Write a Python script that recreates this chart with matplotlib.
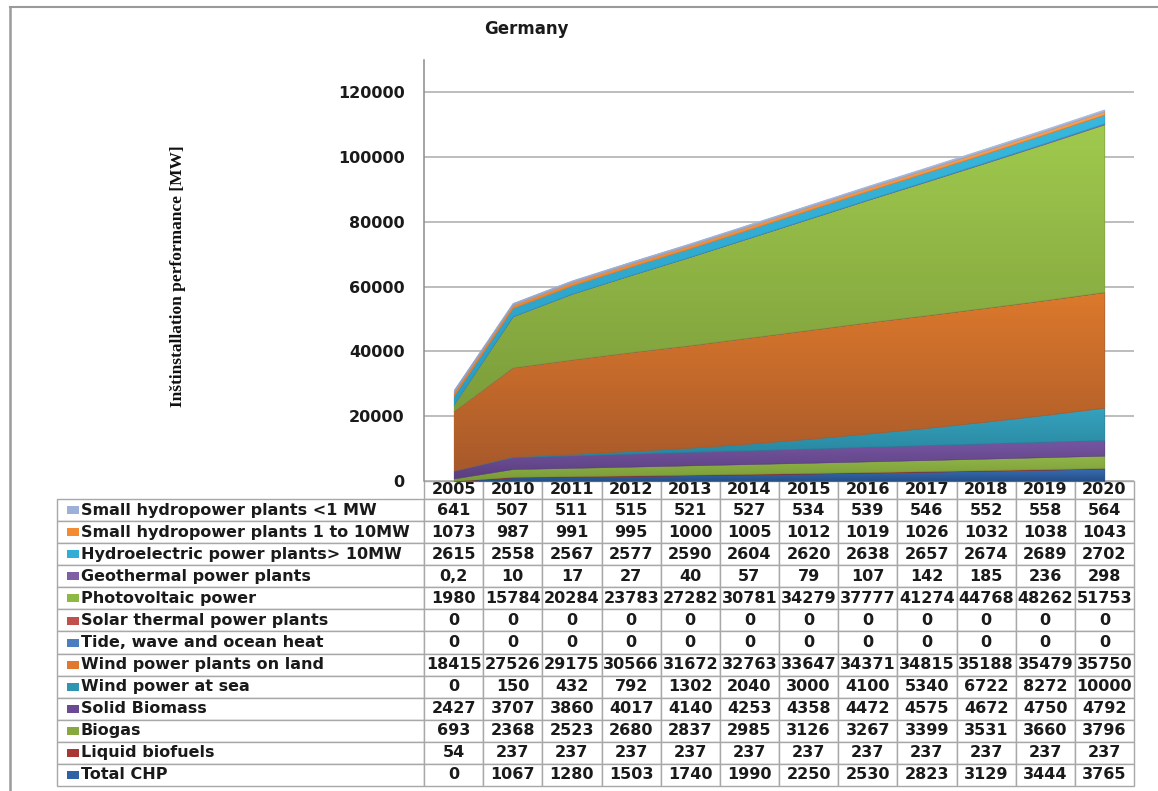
import numpy as np
import matplotlib
matplotlib.use("Agg")
import matplotlib.pyplot as plt
from matplotlib.patches import Rectangle
from matplotlib.lines import Line2D
from matplotlib.colors import LinearSegmentedColormap

# ---------------- data ----------------
years = ["2005", "2010", "2011", "2012", "2013", "2014", "2015",
         "2016", "2017", "2018", "2019", "2020"]

small_hydro_lt1 = [641, 507, 511, 515, 521, 527, 534, 539, 546, 552, 558, 564]
small_hydro_1_10 = [1073, 987, 991, 995, 1000, 1005, 1012, 1019, 1026, 1032, 1038, 1043]
hydro_gt10 = [2615, 2558, 2567, 2577, 2590, 2604, 2620, 2638, 2657, 2674, 2689, 2702]
geothermal = [0.2, 10, 17, 27, 40, 57, 79, 107, 142, 185, 236, 298]
photovoltaic = [1980, 15784, 20284, 23783, 27282, 30781, 34279, 37777, 41274, 44768, 48262, 51753]
solar_thermal = [0, 0, 0, 0, 0, 0, 0, 0, 0, 0, 0, 0]
tide_wave = [0, 0, 0, 0, 0, 0, 0, 0, 0, 0, 0, 0]
wind_land = [18415, 27526, 29175, 30566, 31672, 32763, 33647, 34371, 34815, 35188, 35479, 35750]
wind_sea = [0, 150, 432, 792, 1302, 2040, 3000, 4100, 5340, 6722, 8272, 10000]
solid_biomass = [2427, 3707, 3860, 4017, 4140, 4253, 4358, 4472, 4575, 4672, 4750, 4792]
biogas = [693, 2368, 2523, 2680, 2837, 2985, 3126, 3267, 3399, 3531, 3660, 3796]
liquid_biofuels = [54, 237, 237, 237, 237, 237, 237, 237, 237, 237, 237, 237]
total_chp = [0, 1067, 1280, 1503, 1740, 1990, 2250, 2530, 2823, 3129, 3444, 3765]

series_names = [
    "Small hydropower plants <1 MW",
    "Small hydropower plants 1 to 10MW",
    "Hydroelectric power plants> 10MW",
    "Geothermal power plants",
    "Photovoltaic power",
    "Solar thermal power plants",
    "Tide, wave and ocean heat",
    "Wind power plants on land",
    "Wind power at sea",
    "Solid Biomass",
    "Biogas",
    "Liquid biofuels",
    "Total CHP",
]
series_values = [small_hydro_lt1, small_hydro_1_10, hydro_gt10, geothermal,
                 photovoltaic, solar_thermal, tide_wave, wind_land, wind_sea,
                 solid_biomass, biogas, liquid_biofuels, total_chp]

# (light top, dark bottom, legend colour)
series_colors = [
    ("#AEBEE0", "#8FA3CC", "#9DB0D8"),
    ("#F8A050", "#E47C28", "#F28B32"),
    ("#38B8DE", "#2A9CC2", "#31AED6"),
    ("#8A6CB0", "#73579A", "#7E5FA6"),
    ("#A0CA4E", "#7C9D3B", "#8DB845"),
    ("#C9524E", "#B04440", "#C0504D"),
    ("#5088C8", "#3E70AE", "#4A7EBF"),
    ("#DC792C", "#A8592A", "#E0782E"),
    ("#35A2BE", "#267E96", "#2E96B2"),
    ("#7656A2", "#5A3E7E", "#6A4A90"),
    ("#92B648", "#789B38", "#86A83F"),
    ("#B03E3C", "#8C2E2C", "#A83634"),
    ("#3A6EB2", "#24508A", "#2F62A4"),
]

# ---------------- figure ----------------
W, H = 1158, 791
fig = plt.figure(figsize=(W / 100, H / 100), dpi=100)
fig.patch.set_facecolor("white")

def fx(px):
    return px / W

def fy(py):
    return 1 - py / H

ax_l, ax_r, ax_t, ax_b = 424, 1134, 60, 481
ax = fig.add_axes([fx(ax_l), fy(ax_b), fx(ax_r - ax_l), (ax_b - ax_t) / H])

x = np.arange(len(years))
ymax_lim = 130000

# stacked areas (bottom to top = reverse of table order)
bottom = np.zeros(len(years))
order = list(range(len(series_names)))[::-1]
for z, i in enumerate(order):
    vals = np.array(series_values[i], dtype=float)
    top = bottom + vals
    light, dark, _ = series_colors[i]
    poly = ax.fill_between(x, bottom, top, facecolor=dark, edgecolor=dark,
                           linewidth=0.3, zorder=2 + z * 0.01)
    lo, hi = bottom.min(), top.max()
    if vals.max() > 0 and hi > lo:
        cmap = LinearSegmentedColormap.from_list("g%d" % i, [dark, light])
        grad = np.linspace(0, 1, 256).reshape(-1, 1)
        im = ax.imshow(grad, extent=[x[0], x[-1], lo, hi], origin="lower",
                       aspect="auto", cmap=cmap, zorder=2 + z * 0.01 + 0.005,
                       interpolation="bicubic")
        im.set_clip_path(poly.get_paths()[0], ax.transData)
    bottom = top

ax.set_xlim(-0.5, len(years) - 0.5)
ax.set_ylim(0, ymax_lim)
ax.set_yticks(np.arange(0, 120001, 20000))
ax.set_xticks([])
ax.yaxis.grid(True, color="#ABABAB", linewidth=1.1, zorder=0)
ax.set_axisbelow(True)
for s in ["top", "right", "bottom"]:
    ax.spines[s].set_visible(False)
ax.spines["left"].set_color("#8C8C8C")
ax.spines["left"].set_linewidth(1.1)
ax.tick_params(axis="y", length=0, pad=14, labelsize=11.5, labelcolor="#1a1a1a")
for lab in ax.get_yticklabels():
    lab.set_fontweight("bold")

# ---------------- data table ----------------
def fmt(v):
    return ("%g" % v).replace(".", ",")

cell_text = [[name] + [fmt(v) for v in vals]
             for name, vals in zip(series_names, series_values)]

tab_left, tab_top, tab_bottom = 57, 481, 786
axw, axh = ax_r - ax_l, ax_b - ax_t
bx0 = (tab_left - ax_l) / axw
bh = (tab_bottom - tab_top) / axh
label_w = ax_l - tab_left
col_w = (ax_r - ax_l) / len(years)

tbl = ax.table(cellText=cell_text, colLabels=[""] + years,
               colWidths=[label_w] + [col_w] * len(years),
               cellLoc="center", bbox=[bx0, -bh, 1 - bx0, bh])
tbl.auto_set_font_size(False)
tbl.set_fontsize(11.5)
header_h, row_h = 18, 22.1
for (r, c), cell in tbl.get_celld().items():
    cell.set_edgecolor("#A8A8A8")
    cell.set_linewidth(1.0)
    cell.set_height(header_h if r == 0 else row_h)
    t = cell.get_text()
    t.set_fontweight("bold")
    t.set_color("#1a1a1a")
    if c == 0:
        cell._loc = "left"
        cell.PAD = 24 / label_w
        t.set_ha("left")
        if r == 0:
            cell.set_linewidth(0)
            cell.set_edgecolor("none")

# legend squares in the row-label column
for i in range(len(series_names)):
    yc = 499 + row_h * (i + 0.5)
    fig.add_artist(Rectangle((fx(67), fy(yc + 4)), 12 / W, 8 / H,
                             transform=fig.transFigure,
                             facecolor=series_colors[i][2], edgecolor="none",
                             zorder=10))

# ---------------- texts ----------------
fig.text(fx(526), fy(29), "Germany", ha="center", va="center",
         fontsize=12, fontweight="bold", color="#1a1a1a")
fig.text(fx(178), fy(276), "Inštinstallation performance [MW]", rotation=90,
         ha="center", va="center", fontsize=12.5, fontweight="bold",
         family="Liberation Serif", color="#111111")

# outer frame lines (left and top)
fig.add_artist(Line2D([fx(10), fx(10)], [fy(7), fy(791)], transform=fig.transFigure,
                      color="#9A9A9A", linewidth=1.8))
fig.add_artist(Line2D([fx(10), fx(1158)], [fy(7), fy(7)], transform=fig.transFigure,
                      color="#9A9A9A", linewidth=1.5))

fig.savefig("out.png", dpi=100, facecolor="white")
